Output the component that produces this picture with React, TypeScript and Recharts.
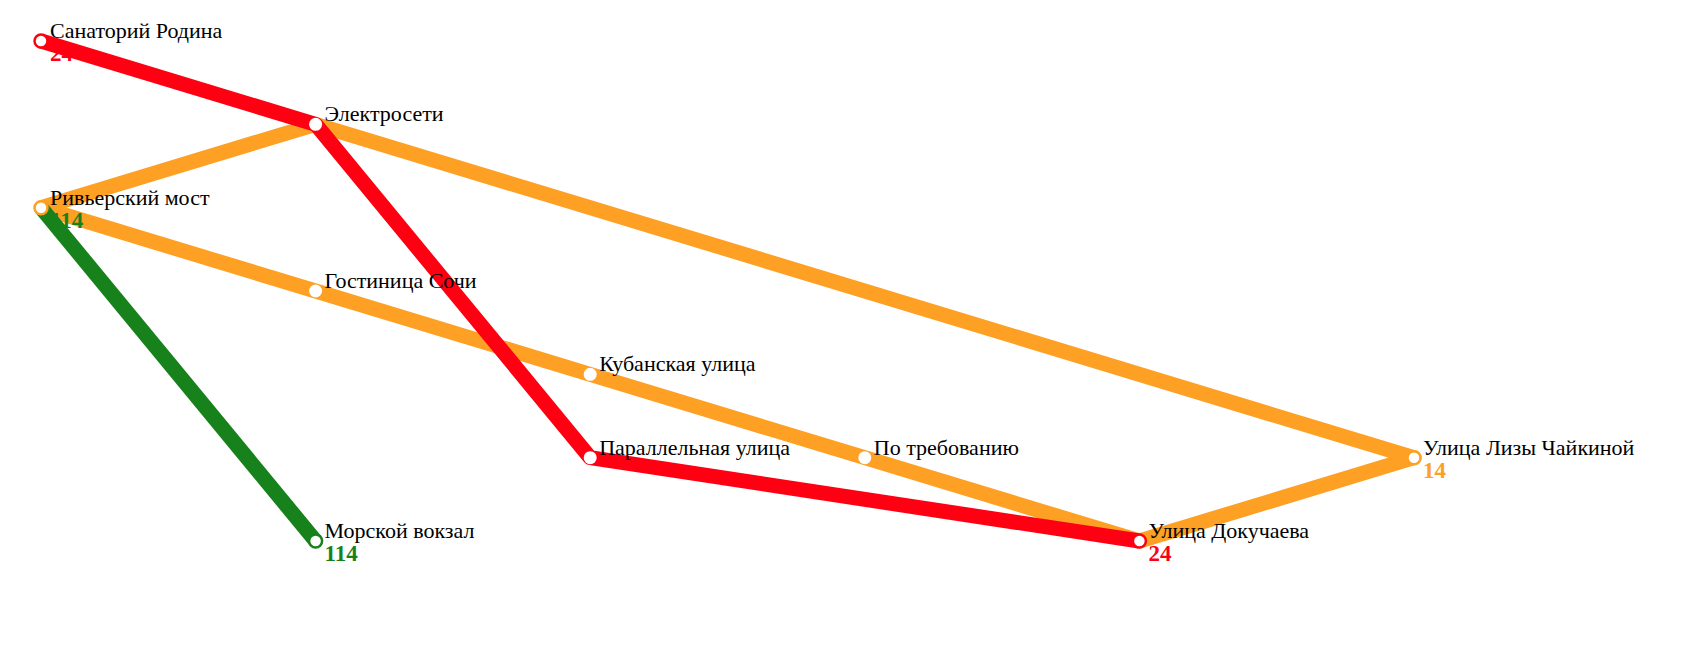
import { ComposedChart, Line, Scatter, XAxis, YAxis } from "recharts";

// grid positions of stations
const stations = [
  { name: "Санаторий Родина", x: 0, y: 0, ring: "#ff0013", route: "24" },
  { name: "Электросети", x: 1, y: 1 },
  { name: "Ривьерский мост", x: 0, y: 2, ring: "#fda023", route: "114", routeColor: "#17821b" },
  { name: "Гостиница Сочи", x: 1, y: 3 },
  { name: "Кубанская улица", x: 2, y: 4 },
  { name: "Параллельная улица", x: 2, y: 5 },
  { name: "По требованию", x: 3, y: 5 },
  { name: "Морской вокзал", x: 1, y: 6, ring: "#17821b", route: "114" },
  { name: "Улица Докучаева", x: 4, y: 6, ring: "#ff0013", route: "24" },
  { name: "Улица Лизы Чайкиной", x: 5, y: 5, ring: "#fda023", route: "14" },
];

const route14 = [
  { x: 0, y: 2 }, { x: 1, y: 1 }, { x: 5, y: 5 }, { x: 4, y: 6 },
  { x: 3, y: 5 }, { x: 2, y: 4 }, { x: 1, y: 3 }, { x: 0, y: 2 },
];
const route114 = [{ x: 0, y: 2 }, { x: 1, y: 6 }];
const route24 = [{ x: 0, y: 0 }, { x: 1, y: 1 }, { x: 2, y: 5 }, { x: 4, y: 6 }];

const font = "'Liberation Serif', 'DejaVu Serif', serif";
const W = 1665;
const H = 620;
const margin = { top: 33, left: 33, right: 259, bottom: 87 };

function StationMark(props: any) {
  const { cx, cy, payload } = props;
  return (
    <g>
      <circle cx={cx} cy={cy} r={6.5} fill="#fff" stroke={payload.ring || "none"} strokeWidth={2.5} />
      <text x={cx + 9} y={cy - 3} fontSize={22} fontFamily={font} fill="#000">
        {payload.name}
      </text>
      {payload.route && (
        <text x={cx + 9} y={cy + 20} fontSize={23} fontWeight="bold" fontFamily={font}
          fill={payload.routeColor || payload.ring}>
          {payload.route}
        </text>
      )}
    </g>
  );
}

function Axes() {
  return [
    <XAxis key="x" type="number" dataKey="x" domain={[0, 5]} hide />,
    <YAxis key="y" type="number" dataKey="y" domain={[0, 6]} reversed hide />,
  ];
}

export default function App() {
  return (
    <div style={{ position: "relative", width: W, height: H }}>
      <div style={{ position: "absolute", left: 0, top: 0 }}>
        <ComposedChart width={W} height={H} margin={margin}>
          <XAxis type="number" dataKey="x" domain={[0, 5]} hide />
          <YAxis type="number" dataKey="y" domain={[0, 6]} reversed hide />
          <Line data={route14} dataKey="y" stroke="#fda023" strokeWidth={15} dot={false}
            strokeLinejoin="round" isAnimationActive={false} />
          <Line data={route114} dataKey="y" stroke="#17821b" strokeWidth={15} dot={false}
            strokeLinejoin="round" isAnimationActive={false} />
          <Line data={route24} dataKey="y" stroke="#ff0013" strokeWidth={15} dot={false}
            strokeLinejoin="round" isAnimationActive={false} />
        </ComposedChart>
      </div>
      <div style={{ position: "absolute", left: 0, top: 0 }}>
        <ComposedChart width={W} height={H} margin={margin}>
          <XAxis type="number" dataKey="x" domain={[0, 5]} hide />
          <YAxis type="number" dataKey="y" domain={[0, 6]} reversed hide />
          <Scatter data={stations} dataKey="y" shape={<StationMark />} isAnimationActive={false} />
        </ComposedChart>
      </div>
    </div>
  );
}
